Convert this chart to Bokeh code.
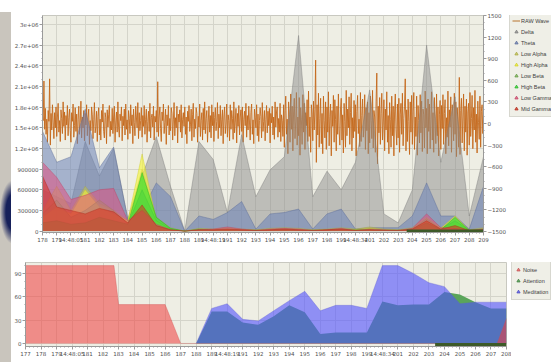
from bokeh.plotting import figure
from bokeh.models import Range1d, LinearAxis, FixedTicker, Legend, LegendItem, Spacer
from bokeh.layouts import column, row
from bokeh.embed import file_html
from bokeh.resources import INLINE

# ---------------- data: top chart (EEG bands, 178..209) ----------------
eeg_x = list(range(178, 210))
delta = [600000, 500000, 400000, 1300000, 800000, 1200000, 180000, 800000, 1370000, 650000,
         0, 1300000, 1040000, 270000, 1400000, 500000, 890000, 1080000, 2840000, 500000,
         870000, 600000, 1000000, 2050000, 250000, 120000, 600000, 2700000, 1000000, 1950000,
         220000, 1080000]
theta = [1450000, 1000000, 1080000, 1770000, 920000, 1220000, 170000, 300000, 700000, 500000,
         0, 220000, 170000, 270000, 430000, 30000, 250000, 270000, 320000, 30000,
         250000, 320000, 30000, 50000, 50000, 50000, 220000, 700000, 220000, 220000,
         30000, 650000]
low_alpha = [300000, 650000, 300000, 650000, 400000, 300000, 150000, 900000, 200000, 50000,
             0, 40000, 30000, 50000, 30000, 20000, 40000, 50000, 40000, 20000,
             30000, 50000, 30000, 60000, 30000, 20000, 50000, 200000, 50000, 120000,
             20000, 50000]
high_alpha = [200000, 350000, 250000, 600000, 350000, 250000, 150000, 1120000, 150000, 30000,
              0, 20000, 20000, 30000, 20000, 10000, 20000, 30000, 20000, 10000,
              20000, 30000, 20000, 40000, 20000, 10000, 30000, 150000, 40000, 220000,
              10000, 30000]
low_beta = [250000, 450000, 200000, 300000, 450000, 300000, 100000, 600000, 150000, 30000,
            0, 30000, 20000, 30000, 20000, 10000, 20000, 30000, 20000, 10000,
            20000, 30000, 20000, 30000, 20000, 10000, 30000, 180000, 30000, 150000,
            10000, 30000]
high_beta = [120000, 150000, 100000, 120000, 200000, 150000, 100000, 850000, 200000, 40000,
             0, 20000, 10000, 20000, 10000, 10000, 10000, 20000, 10000, 10000,
             10000, 20000, 10000, 20000, 10000, 10000, 20000, 120000, 20000, 200000,
             10000, 20000]
low_gamma = [1000000, 780000, 460000, 520000, 600000, 620000, 150000, 300000, 100000, 20000,
             0, 20000, 30000, 60000, 30000, 10000, 30000, 40000, 30000, 10000,
             20000, 40000, 10000, 30000, 20000, 10000, 40000, 250000, 50000, 40000,
             10000, 30000]
mid_gamma = [800000, 350000, 300000, 250000, 330000, 280000, 120000, 380000, 80000, 20000,
             0, 20000, 20000, 30000, 20000, 10000, 20000, 30000, 20000, 10000,
             20000, 30000, 10000, 20000, 10000, 10000, 30000, 150000, 30000, 80000,
             10000, 20000]

# raw wave samples (20 per second, starting at 178)
raw_wave = [
    120, 40, 590, -80, 210, -150, 60, -260, 180, 30, 620, -300, 140, -90, 260, 20, -210, 150, -60, 230,
    -180, 90, 280, -120, 40, -250, 190, 70, -140, 300, -40, 160, -230, 110, -20, 250, -170, 80, 200, -100,
    -260, 150, 30, 270, -190, -30, 220, -110, 130, -280, 60, 240, -150, 10, 310, -200, 90, -60, 180, -240,
    140, -20, 260, -170, 80, 200, -290, 40, -100, 230, 120, -210, 50, 290, -130, -40, 170, -250, 100, 220,
    -160, 60, -230, 180, 20, 270, -110, -200, 150, 80, -280, 190, -50, 120, 250, -180, 30, -90, 210, -140,
    90, 240, -260, 20, 160, -120, 300, -60, -190, 130, 40, 230, -240, 100, -30, 200, -160, 270, -80, 50,
    -220, 180, 70, -140, 260, -30, 120, -280, 200, 10, -170, 240, 90, -60, 290, -210, 150, -100, 40, 220,
    -190, 110, -40, 250, -150, 60, 200, -260, 30, 170, -110, 280, -200, 80, 130, -50, 240, -230, 100, 20,
    180, -120, 580, -180, 90, 230, -70, -250, 160, 40, 270, -140, 10, 200, -290, 120, -30, 250, -160, 70,
    -100, 220, 140, -230, 50, 290, -170, 80, -60, 240, -270, 130, 20, 190, -120, 260, -200, 60, 150, -40,
    230, -150, 90, -280, 170, 30, 250, -110, -20, 200, -240, 120, 280, -190, 60, -70, 220, 140, -260, 100,
    -50, 270, -180, 40, 150, -230, 210, -90, 300, -140, 70, 180, -260, 20, 240, -120, 110, -200, 260, -30,
    160, -250, 80, 220, -100, 30, 290, -210, 130, -60, 250, -170, 50, 190, -280, 90, 230, -140, -10, 270,
    -190, 120, 40, -240, 260, -80, 180, 70, -220, 300, -130, 20, 210, -270, 140, -40, 250, -160, 90, 190,
    -110, 230, -260, 60, 170, -30, 280, -190, 110, -90, 240, 20, -230, 150, 270, -150, 50, -280, 200, 80,
    -60, 260, -170, 130, -250, 40, 220, 100, -200, 290, -110, 30, 180, -240, 60, 250, -130, 170, -30, 210,
    -270, 140, 10, 240, -160, 90, -220, 300, -50, 160, 230, -190, 70, -120, 280, -250, 120, 40, -180, 260,
    -330, 180, 380, -150, 60, -420, 300, 120, -260, 410, -80, 240, -380, 160, 350, -210, 20, 430, -300, 90,
    -170, 360, -440, 220, 50, -290, 400, -120, 280, -360, 150, -30, 330, -250, 450, -180, 90, -400, 260, 130,
    -240, 310, -90, 190, 880, -540, 260, -160, 420, -330, 70, 350, -280, 140, -420, 380, 40, -200, 300, -360,
    230, -120, 440, -310, 100, 270, -450, 180, -40, 390, -260, 330, 60, -380, 240, -150, 410, -90, -300, 200,
    350, -230, 120, -410, 280, 30, -330, 460, -170, 200, -60, 370, -290, 150, 420, -380, 80, -200, 320, -110,
    260, -450, 170, 390, -140, 60, -320, 430, -250, 110, 340, -190, -20, 400, -360, 220, -100, 300, -420, 150,
    -270, 380, 40, -210, 460, -340, 180, 90, -400, 310, 700, -560, 240, -130, 360, -290, 140, 420, -230, 20,
    330, -380, 200, -90, 440, -260, 110, -420, 290, 60, -330, 380, -170, 240, -450, 160, 410, -80, -300, 270,
    -200, 350, -400, 130, 280, -150, 420, -310, 70, 240, 620, -380, 190, -250, 340, 30, -430, 300, -120, 390,
    -290, 160, 430, -360, 90, -180, 380, -440, 250, 40, -270, 400, -130, 310, -390, 200, 120, -340, 450, -60,
    210, -420, 340, -110, 270, -350, 60, 440, -230, 150, -400, 360, 20, -280, 410, -170, 230, -450, 120, 320,
    -360, 250, -70, 400, -290, 140, 330, -420, 80, -190, 450, -310, 190, -50, 370, -400, 260, 100, -240, 420,
    -150, 300, -460, 220, 50, -330, 640, -430, 180, 350, -270, 90, 410, -380, 240, -120, 340, -440, 160, 280,
    -300, 430, -180, 70, 390, -350, 220, -90, 460, -260, 130, -410, 310, 10, -220, 380, -330, 170, 260, -140,
    120,
]
raw_x = [178 + i * 0.05 for i in range(len(raw_wave))]

top_x_ticks = list(range(178, 210))
time_labels = {180: "14:48:05", 190: "14:48:19", 200: "14:48:34"}
left_ticks = [0, 300000, 600000, 900000, 1200000, 1500000, 1800000, 2100000, 2400000, 2700000, 3000000]
left_tick_labels = ["0", "300000", "600000", "900000", "1.2e+06", "1.5e+06", "1.8e+06",
                    "2.1e+06", "2.4e+06", "2.7e+06", "3e+06"]
right_ticks = [-1500, -1200, -900, -600, -300, 0, 300, 600, 900, 1200, 1500]
top_selection = [203.6, 209]

# ---------------- data: bottom chart (eSense, 177..208) ----------------
noise_x = [177, 182.7, 183, 186, 187, 207.4, 208]
noise = [100, 100, 50, 50, 0, 0, 32]
sense_x = list(range(188, 209))
attention = [0, 41, 41, 27, 24, 35, 49, 40, 12, 14, 14, 14, 54, 49, 50, 50, 66, 63, 53, 45, 45]
meditation = [0, 45, 51, 31, 29, 42, 55, 67, 42, 49, 49, 45, 100, 100, 90, 78, 73, 51, 53, 53, 53]
bottom_x_ticks = list(range(177, 209))
bottom_y_ticks = [0, 30, 60, 90]
bottom_selection = [203.4, 208]

FONT = "DejaVu Sans"
LFONT = "Liberation Sans"
FS = "5.5px"
LBL = "#505050"
AX = "#9a9a9a"
BG = "#eeeee4"
GRID = "#d4d4ca"


def style_axis(ax):
    ax.axis_line_color = AX
    ax.major_tick_line_color = AX
    ax.minor_tick_line_color = AX
    ax.major_tick_out = 3
    ax.major_tick_in = 0
    ax.minor_tick_out = 1
    ax.minor_tick_in = 0
    ax.major_label_text_font = FONT
    ax.major_label_text_font_size = FS
    ax.major_label_text_color = LBL
    ax.major_label_standoff = 1


def legend_figure(width, height):
    f = figure(width=width, height=height, x_range=Range1d(0, 1), y_range=Range1d(0, 1),
               output_backend="svg", toolbar_location=None, min_border=0,
               x_axis_location=None, y_axis_location=None, outline_line_color=None,
               background_fill_color="white", border_fill_color="white")
    f.xgrid.visible = False
    f.ygrid.visible = False
    return f


def make_legend(items, loc):
    return Legend(items=items, location=loc, orientation="vertical",
                  label_text_font=LFONT, label_text_font_size="5.5px", label_text_color="#404040",
                  glyph_width=8, glyph_height=11, label_height=11, label_standoff=1, spacing=0,
                  padding=2, margin=0, background_fill_color="#efefe7", background_fill_alpha=1,
                  border_line_color="#c0c0b8")


# ---------------- top figure ----------------
p = figure(width=498, height=250, x_range=Range1d(178, 209), y_range=Range1d(-20000, 3130000),
           output_backend="svg", toolbar_location=None,
           min_border_left=31, min_border_right=22, min_border_top=15, min_border_bottom=18,
           background_fill_color=BG, border_fill_color="white", outline_line_color="#c8c8c0")
p.extra_y_ranges = {"raw": Range1d(-1514, 1500)}

p.line(raw_x, raw_wave, y_range_name="raw", line_color="#c4681c", line_width=1.0, line_alpha=0.9)

bands = [
    ("Delta", delta, "#8c8c8c", 0.5, "#7a7a7a"),
    ("Theta", theta, "#6a82b8", 0.55, "#5a6a98"),
    ("Low Alpha", low_alpha, "#c8c850", 0.5, "#a8a840"),
    ("High Alpha", high_alpha, "#f5f530", 0.6, "#d0d020"),
    ("Low Beta", low_beta, "#80b858", 0.5, "#609840"),
    ("High Beta", high_beta, "#30e030", 0.65, "#20b020"),
    ("Low Gamma", low_gamma, "#e05080", 0.55, "#c04060"),
    ("Mid Gamma", mid_gamma, "#d83020", 0.55, "#b02818"),
]
lf1 = legend_figure(42, 250)
raw_icon = lf1.line([5, 6], [5, 6], line_color="#b8742e", line_width=1)
items = [LegendItem(label="RAW Wave", renderers=[raw_icon])]
for name, vals, col, alp, lc in bands:
    p.varea(x=eeg_x, y1=0, y2=vals, fill_color=col, fill_alpha=alp)
    p.line(eeg_x, vals, line_color=lc, line_alpha=0.6, line_width=0.7)
    icon = lf1.scatter(x=[5], y=[5], marker="triangle", size=9, fill_color=col, fill_alpha=0.7,
                       line_color=lc, line_alpha=0.8)
    items.append(LegendItem(label=name, renderers=[icon]))
lf1.add_layout(make_legend(items, (0, 115)))

p.quad(left=[top_selection[0]], right=[top_selection[1]], bottom=[-20000], top=[25000],
       fill_color="#3d5a28", line_color=None)

p.xaxis.ticker = FixedTicker(ticks=top_x_ticks, minor_ticks=[178 + i * 0.25 for i in range(125)])
p.xaxis.major_label_overrides = {k: v for k, v in time_labels.items()}
p.yaxis.ticker = FixedTicker(ticks=left_ticks, minor_ticks=[i * 100000 for i in range(32)])
p.yaxis.major_label_overrides = {t: s for t, s in zip(left_ticks, left_tick_labels)}
right_axis = LinearAxis(y_range_name="raw",
                        ticker=FixedTicker(ticks=right_ticks, minor_ticks=[-1500 + i * 100 for i in range(31)]))
p.add_layout(right_axis, "right")
for ax in [p.xaxis[0], p.yaxis[0], right_axis]:
    style_axis(ax)
p.xgrid.ticker = FixedTicker(ticks=top_x_ticks)
p.ygrid.ticker = FixedTicker(ticks=left_ticks)
p.xgrid.grid_line_color = GRID
p.ygrid.grid_line_color = GRID

# ---------------- bottom figure ----------------
q = figure(width=500, height=112, x_range=Range1d(177, 208), y_range=Range1d(-3.9, 104),
           output_backend="svg", toolbar_location=None,
           min_border_left=14, min_border_right=5, min_border_top=12, min_border_bottom=16,
           background_fill_color=BG, border_fill_color="white", outline_line_color="#c8c8c0")

q.varea(x=sense_x, y1=0, y2=attention, fill_color="#5aa55a", fill_alpha=1.0)
q.varea(x=sense_x, y1=0, y2=meditation, fill_color="#5050ff", fill_alpha=0.6)
q.varea(x=noise_x, y1=0, y2=noise, fill_color="#f03c3c", fill_alpha=0.55)
q.line(noise_x, noise, line_color="#d05050", line_alpha=0.5, line_width=0.7)
q.line(sense_x, meditation, line_color="#6060d0", line_alpha=0.5, line_width=0.7)
q.quad(left=[bottom_selection[0]], right=[bottom_selection[1]], bottom=[-3.9], top=[0.5],
       fill_color="#3d5a28", line_color=None)

lf2 = legend_figure(40, 112)
b_items = []
for name, col, lc in [("Noise", "#f07070", "#c05050"), ("Attention", "#5aa55a", "#3d803d"),
                      ("Meditation", "#6a6af0", "#4848c0")]:
    icon = lf2.scatter(x=[5], y=[5], marker="triangle", size=9, fill_color=col, fill_alpha=0.85,
                       line_color=lc, line_alpha=0.8)
    b_items.append(LegendItem(label=name, renderers=[icon]))
lf2.add_layout(make_legend(b_items, (0, 46)))

q.xaxis.ticker = FixedTicker(ticks=bottom_x_ticks, minor_ticks=[177 + i * 0.25 for i in range(125)])
q.xaxis.major_label_overrides = {k: v for k, v in time_labels.items()}
q.yaxis.ticker = FixedTicker(ticks=bottom_y_ticks, minor_ticks=[i * 10 for i in range(11)])
for ax in [q.xaxis[0], q.yaxis[0]]:
    style_axis(ax)
q.xgrid.ticker = FixedTicker(ticks=bottom_x_ticks)
q.ygrid.ticker = FixedTicker(ticks=bottom_y_ticks)
q.xgrid.grid_line_color = GRID
q.ygrid.grid_line_color = GRID

strip = Spacer(width=11, height=362, styles={
    "background": "radial-gradient(ellipse 13px 32px at 13px 212px, #16205a 55%, rgba(200,196,188,0) 100%), "
                  "linear-gradient(to bottom, #ffffff 12px, #c9c5bd 12px)"})

layout = row(strip, column(row(p, lf1, spacing=0), row(q, lf2, spacing=0), spacing=0), spacing=0)
open("out.html", "w").write(file_html(layout, INLINE))
